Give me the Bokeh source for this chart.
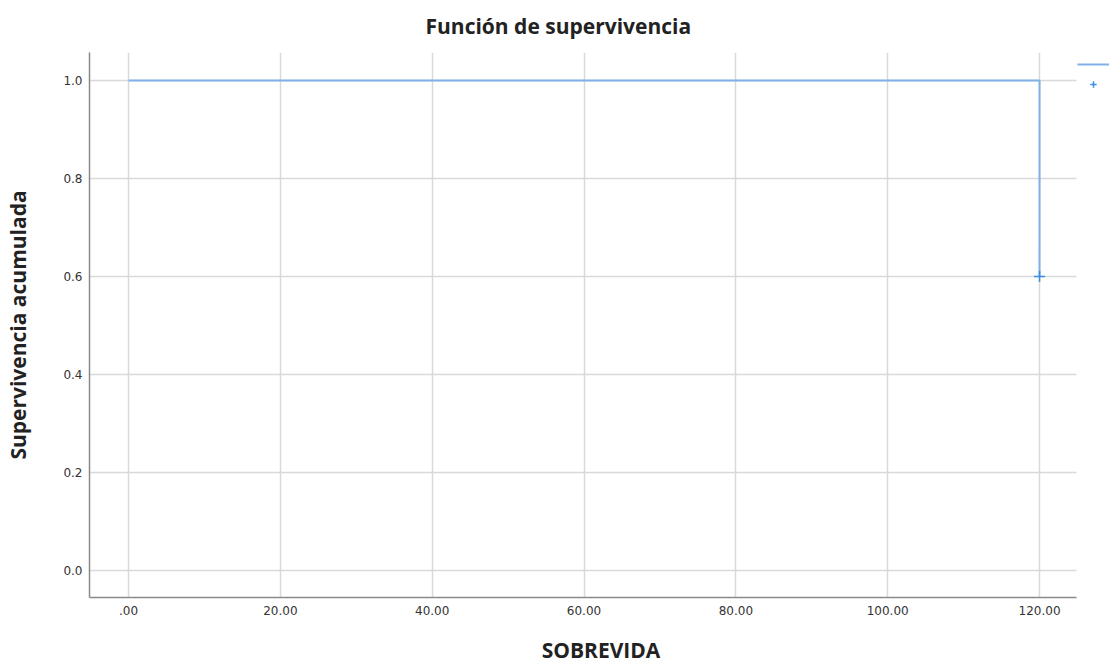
from bokeh.plotting import figure
from bokeh.models import Range1d, FixedTicker, Legend, LegendItem
from bokeh.embed import file_html
from bokeh.resources import INLINE

# Data
times = [0.0, 120.0]
survival = [1.0, 0.6]
censor_t = [120.0]
censor_s = [0.6]
x_ticks = [0, 20, 40, 60, 80, 100, 120]
x_tick_labels = [".00", "20.00", "40.00", "60.00", "80.00", "100.00", "120.00"]
y_ticks = [0.0, 0.2, 0.4, 0.6, 0.8, 1.0]
y_tick_labels = ["0.0", "0.2", "0.4", "0.6", "0.8", "1.0"]

W, H = 1112, 666
BL, BT, BB, BR = 89, 52, 69, 0
X0, X1 = -5.137, 129.61
XG1 = 124.9

p = figure(width=W, height=H, output_backend="svg", toolbar_location=None,
           x_range=Range1d(X0, X1), y_range=Range1d(-0.055, 1.057),
           min_border_left=BL, min_border_top=BT, min_border_bottom=BB, min_border_right=BR)

p.title.text = "Función de supervivencia"
p.title.align = "left"
p.title.vertical_align = "top"
p.title.offset = 336
p.title.standoff = 22
p.title.text_line_height = 0.9
p.title.text_font = "Open Sans"
p.title.text_font_size = "21px"
p.title.text_font_style = "bold"
p.title.text_color = "#222222"

line = p.step(times, survival, mode="after", line_color="#80b0e8", line_width=2)
cross = p.scatter(censor_t, censor_s, marker="cross", size=11, line_color="#3a8ee6", line_width=1.5)

p.xaxis.ticker = FixedTicker(ticks=x_ticks)
p.xaxis.major_label_overrides = {t: l for t, l in zip(x_ticks, x_tick_labels)}
p.yaxis.ticker = FixedTicker(ticks=y_ticks)
p.yaxis.major_label_overrides = {t: l for t, l in zip(y_ticks, y_tick_labels)}
p.xaxis.bounds = (X0, XG1)

p.xaxis.axis_label = "SOBREVIDA"
p.yaxis.axis_label = "Supervivencia acumulada"
for ax in (p.xaxis, p.yaxis):
    ax.axis_label_text_font = "Open Sans"
    ax.axis_label_text_font_size = "21px"
    ax.axis_label_text_font_style = "bold"
    ax.axis_label_text_color = "#222222"
    ax.major_label_text_font = "DejaVu Sans"
    ax.major_label_text_font_size = "12px"
    ax.major_label_text_color = "#333333"
    ax.major_tick_line_color = None
    ax.major_tick_out = 0
    ax.major_tick_in = 0
    ax.minor_tick_line_color = None
    ax.minor_tick_out = 0
    ax.axis_line_color = "#8a8a8a"
    ax.axis_line_width = 1.5
p.xaxis.axis_label_standoff = 18
p.yaxis.axis_label_standoff = 28
p.xaxis.major_label_standoff = 8
p.yaxis.major_label_standoff = 7

p.xgrid.grid_line_color = "#d9d9d9"
p.ygrid.grid_line_color = "#d9d9d9"
p.xgrid.grid_line_width = 1.5
p.ygrid.grid_line_width = 1.5
try:
    p.ygrid.cross_bounds = (X0, XG1)
except Exception:
    pass
p.outline_line_color = None

frame_h = H - BT - BB
legend = Legend(items=[LegendItem(label="", renderers=[line]),
                       LegendItem(label="", renderers=[cross])],
                location=(988, frame_h - 40), border_line_color=None,
                background_fill_alpha=0,
                glyph_width=32, glyph_height=16, label_standoff=0, padding=0, margin=0,
                spacing=4, label_text_font_size="1px", label_width=0)
p.add_layout(legend)

open("out.html", "w").write(file_html(p, INLINE))
